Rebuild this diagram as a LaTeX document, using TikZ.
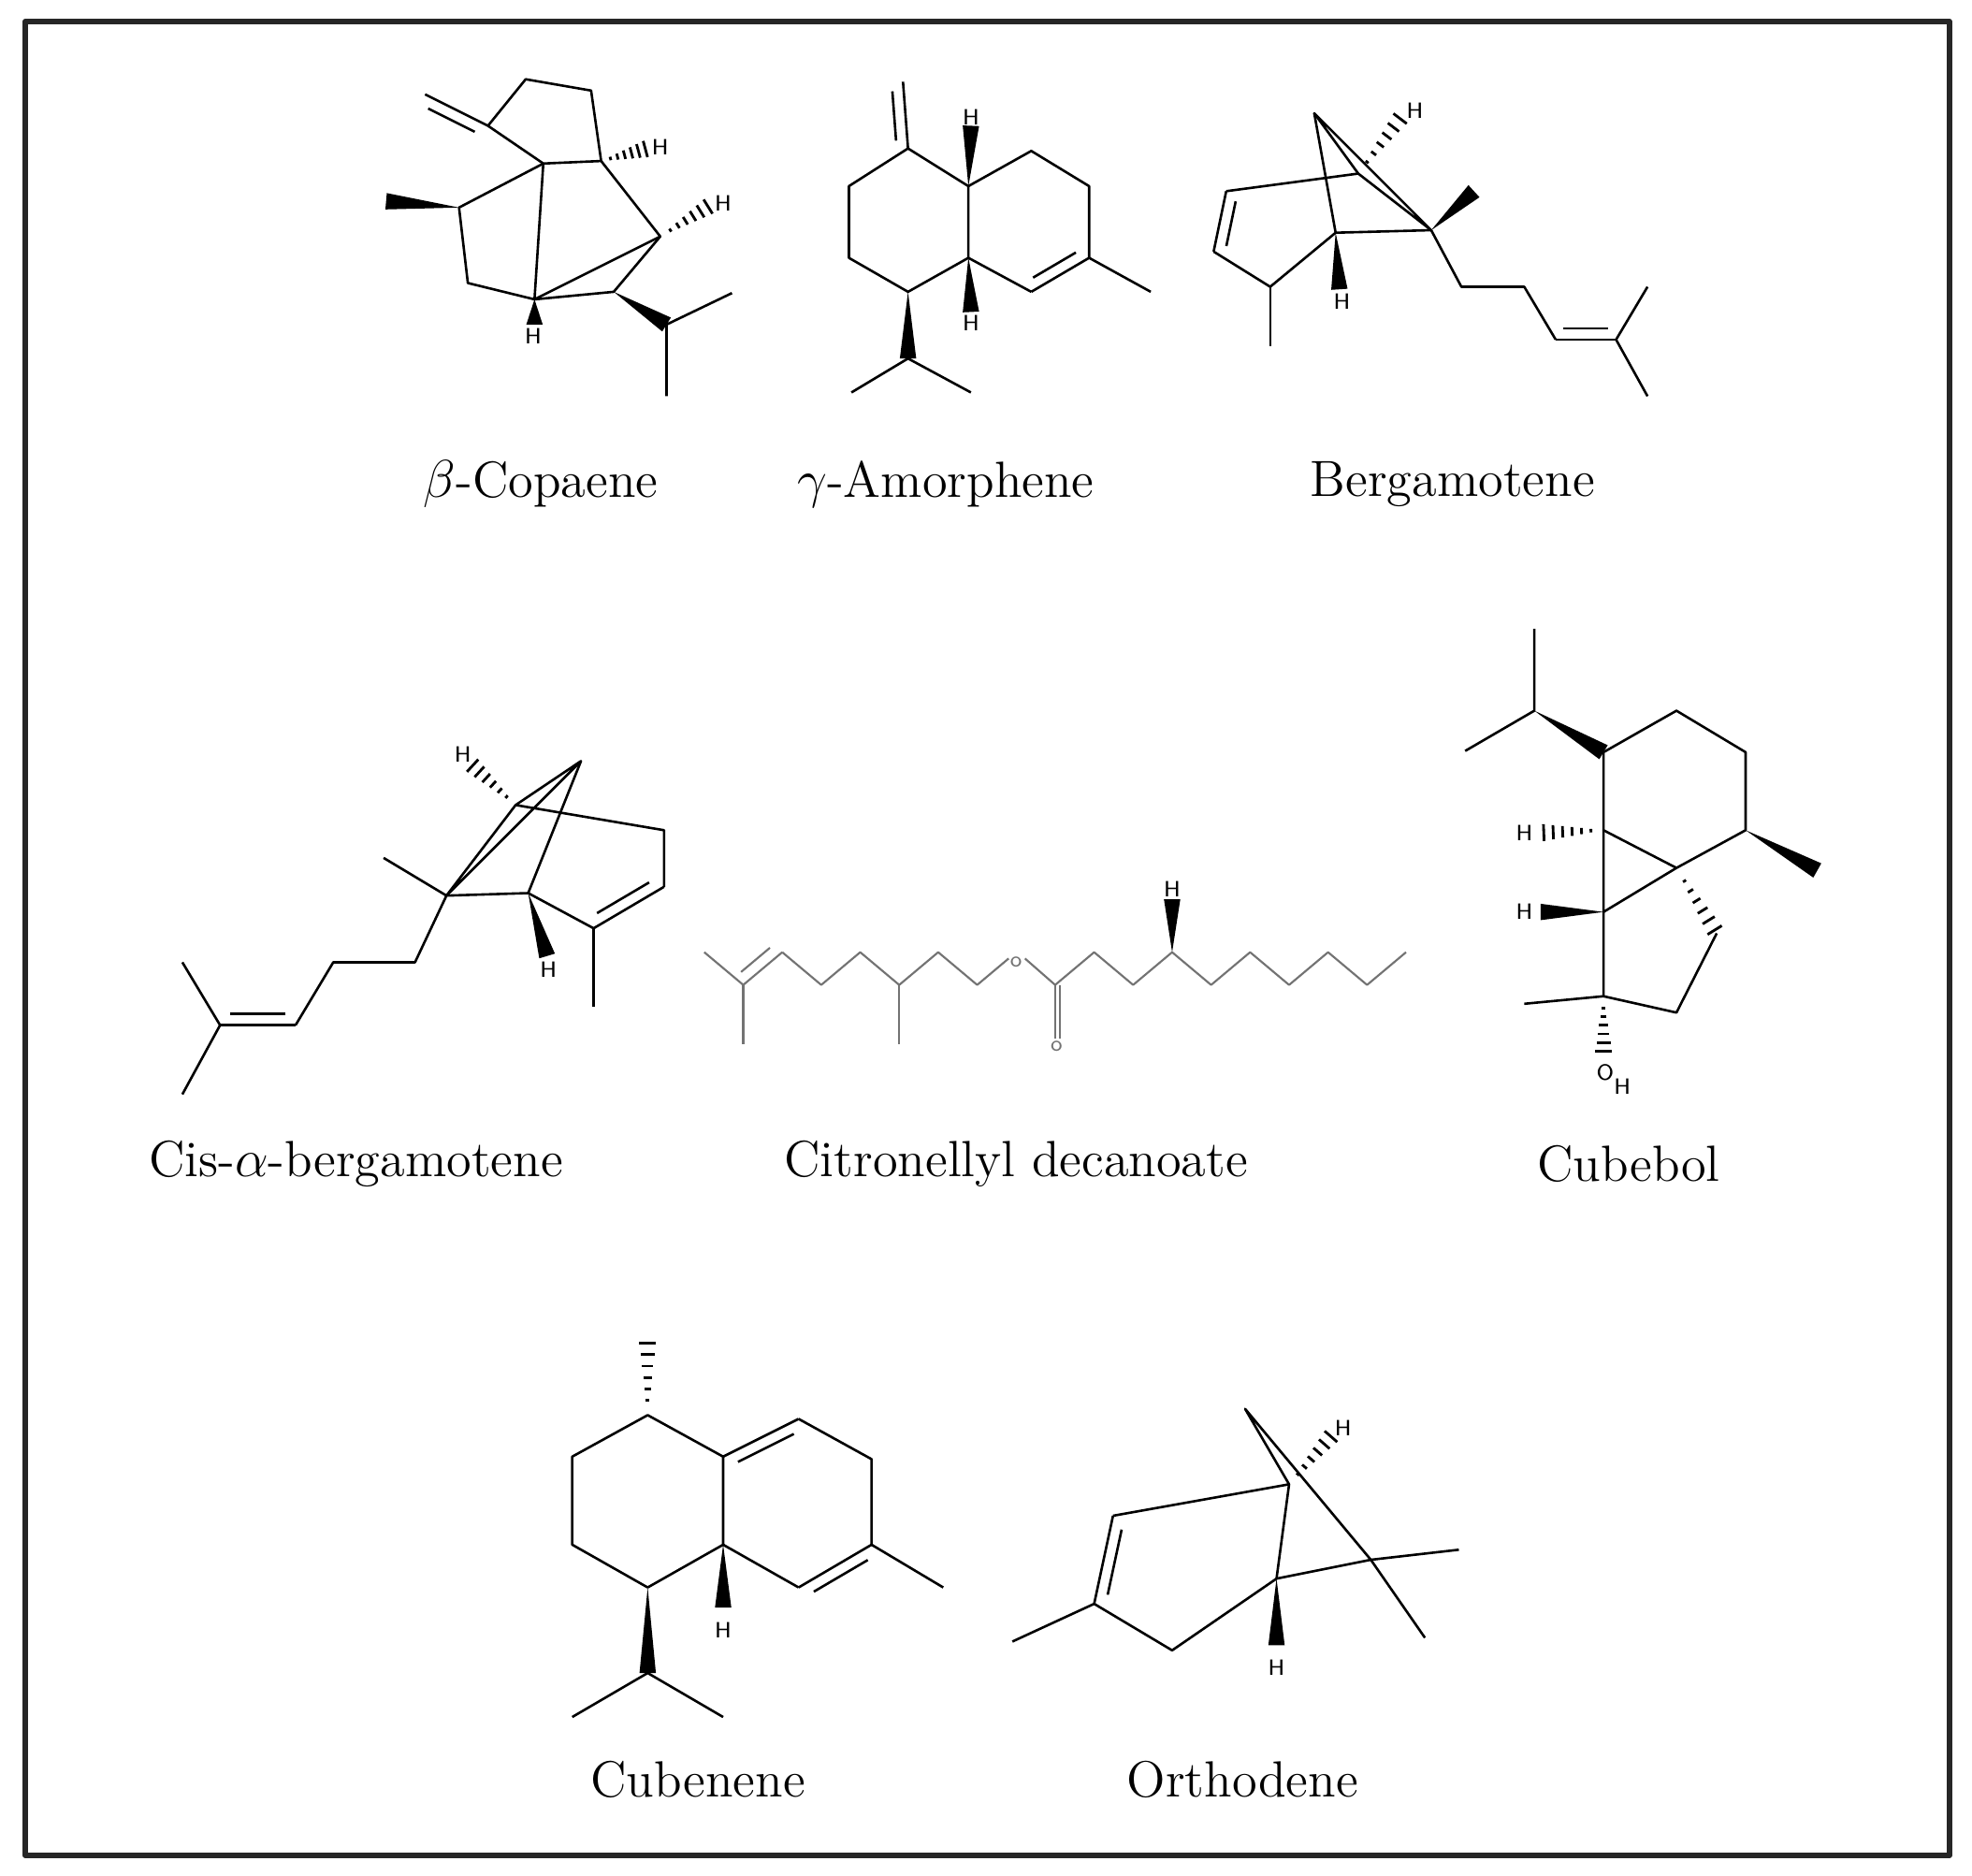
\documentclass[tikz,border=0pt]{standalone}
\usetikzlibrary{calc}
\newcommand\wdg[2]{\fill ($(#2)!0.065cm!90:(#1)$) -- (#1) -- ($(#2)!0.065cm!-90:(#1)$) -- cycle;}
\newcommand\hsh[2]{\foreach \t in {0.2,0.35,0.5,0.65,0.8,0.95}{\path ($(#1)!\t!(#2)$) coordinate (hm); \draw[line width=0.6pt] ($(hm)!\t*0.07cm!90:(#2)$) -- ($(hm)!\t*0.07cm!-90:(#2)$);}}
\newcommand\dbl[3]{\draw (#1) -- (#2); \path ($(#1)!0.13!(#2)$) coordinate (da) ($(#1)!0.87!(#2)$) coordinate (db); \draw ($(da)!0.09cm!#3*90:(#2)$) -- ($(db)!0.09cm!-#3*90:(#1)$);}
\tikzset{lab/.style={font=\fontsize{11.5}{14}\selectfont,inner sep=0pt}, hl/.style={font=\fontsize{5}{6}\selectfont\sffamily,inner sep=0pt}}
\begin{document}
\begin{tikzpicture}[x=0.01cm,y=-0.01cm,line width=0.55pt,line join=round]
\useasboundingbox (0,0) rectangle (1568,1491);
\fill[white] (0,0) rectangle (1568,1491);
\draw[line width=1.2pt,black!85] (20,17) rectangle (1550,1475);
% beta-copaene
\draw (388,100)--(418,63)--(470,72)--(478,128)--(432,130)--(388,100);
\dbl{388,100}{338,75}{1}
\draw (432,130)--(365,165)--(372,225)--(425,238)--(432,130);
\draw (425,238)--(488,232)--(525,188)--(478,128);
\draw (425,238)--(525,188);
\wdg{365,165}{307,160}
\wdg{425,238}{425,258}
\hsh{478,128}{515,118}
\hsh{525,188}{565,163}
\wdg{488,232}{530,258}
\draw (530,258)--(582,233) (530,258)--(530,315);
\node[hl] (h1) at (525,117) {H}; \node[hl] (h2) at (575,162) {H}; \node[hl] (h3) at (424,267) {H};
% gamma-amorphene
\draw (722,118)--(675,148)--(675,205)--(722,232)--(770,205)--(770,148)--cycle;
\dbl{722,118}{718,65}{1}
\draw (770,148)--(820,120)--(866,148)--(866,205);
\dbl{866,205}{820,232}{-1}
\draw (820,232)--(770,205);
\draw (866,205)--(915,232);
\wdg{770,148}{772,100}
\wdg{770,205}{772,248}
\wdg{722,232}{722,285}
\draw (722,285)--(677,312) (722,285)--(772,312);
\node[hl] (h4) at (772,93) {H}; \node[hl] (h5) at (772,257) {H};
% bergamotene
\draw (975,152)--(1080,138);
\dbl{975,152}{965,200}{1}
\draw (965,200)--(1010,228)--(1062,185)--(1138,183)--(1080,138)--(1045,90)--(1138,183);
\draw (1045,90)--(1062,185);
\hsh{1080,138}{1115,92}
\wdg{1138,183}{1172,152}
\wdg{1062,185}{1065,230}
\draw (1010,228)--(1010,275);
\draw (1138,183)--(1162,228)--(1212,228)--(1237,270);
\dbl{1237,270}{1285,270}{1}
\draw (1285,270)--(1310,228) (1285,270)--(1310,315);
\node[hl] (h6) at (1125,88) {H}; \node[hl] (h7) at (1067,240) {H};
% cis-alpha-bergamotene
\draw (410,640)--(462,605)--(355,712)--(410,640)--(528,660)--(528,705);
\dbl{528,705}{472,738}{-1}
\draw (472,738)--(420,710)--(355,712) (420,710)--(462,605);
\draw (472,738)--(472,800);
\hsh{410,640}{374,607}
\wdg{420,710}{435,760}
\draw (355,712)--(305,682);
\draw (355,712)--(330,765)--(265,765)--(235,815);
\dbl{235,815}{175,815}{-1}
\draw (175,815)--(145,765) (175,815)--(145,870);
\node[hl] (h8) at (368,600) {H}; \node[hl] (h9) at (436,771) {H};
% citronellyl decanoate
\begin{scope}[black!55,line width=0.45pt]
\draw (560,757)--(591,783);
\dbl{591,783}{622,757}{1}
\draw (591,783)--(591,830);
\draw (622,757)--(653,783)--(684,757)--(715,783)--(746,757)--(777,783)--(802,762);
\draw (815,762)--(839,783)--(870,757)--(901,783)--(932,757)--(963,783)--(994,757)--(1025,783)--(1056,757)--(1087,783)--(1118,757);
\draw (715,783)--(715,830);
\draw (839,783)--(839,826) (843,783)--(843,826);
\node[hl,black!55] (o1) at (808,765) {o};
\node[hl,black!55] (o2) at (840,832) {o};
\end{scope}
\wdg{932,757}{932,715}
\node[hl] (h10) at (932,707) {H};
% cubebol
\draw (1220,500)--(1220,565)--(1165,597);
\wdg{1220,565}{1275,598}
\draw (1275,598)--(1333,565)--(1388,598)--(1388,660)--(1333,690)--(1275,660)--cycle;
\wdg{1388,660}{1445,692}
\draw (1275,660)--(1275,725)--(1333,690);
\hsh{1333,690}{1365,742}
\draw (1365,742)--(1333,805)--(1275,792)--(1275,725);
\draw (1275,792)--(1212,798);
\hsh{1275,660}{1225,662}
\wdg{1275,725}{1225,725}
\hsh{1275,792}{1275,838}
\node[hl] (h11) at (1212,662) {H}; \node[hl] (h12) at (1212,725) {H};
\node[hl] (oh) at (1283,858) {O\raisebox{-3pt}{H}};
% cubenene
\hsh{515,1125}{515,1065}
\draw (515,1125)--(455,1158)--(455,1228)--(515,1262)--(575,1228)--(575,1158)--cycle;
\dbl{575,1158}{635,1128}{-1}
\draw (635,1128)--(693,1160)--(693,1228);
\dbl{693,1228}{635,1262}{1}
\draw (635,1262)--(575,1228) (693,1228)--(750,1262);
\wdg{575,1228}{575,1278}
\wdg{515,1262}{515,1330}
\draw (515,1330)--(455,1365) (515,1330)--(575,1365);
\node[hl] (h13) at (575,1296) {H};
% orthodene
\draw (885,1205)--(1025,1180)--(990,1120)--(1090,1240)--(1133,1302);
\dbl{885,1205}{870,1275}{1}
\draw (870,1275)--(932,1312)--(1015,1255)--(1090,1240)--(1160,1232);
\draw (870,1275)--(805,1305);
\draw (1025,1180)--(1015,1255);
\hsh{1025,1180}{1060,1140}
\wdg{1015,1255}{1015,1308}
\node[hl] (h14) at (1068,1135) {H}; \node[hl] (h15) at (1015,1326) {H};
% labels
\node[lab] (l1) at (430,385) {$\beta$-Copaene};
\node[lab] (l2) at (752,385) {$\gamma$-Amorphene};
\node[lab] (l3) at (1155,385) {Bergamotene};
\node[lab] (l4) at (283,925) {Cis-$\alpha$-bergamotene};
\node[lab] (l5) at (808,925) {Citronellyl decanoate};
\node[lab] (l6) at (1295,925) {Cubebol};
\node[lab] (l7) at (555,1415) {Cubenene};
\node[lab] (l8) at (988,1415) {Orthodene};
\end{tikzpicture}
\end{document}
